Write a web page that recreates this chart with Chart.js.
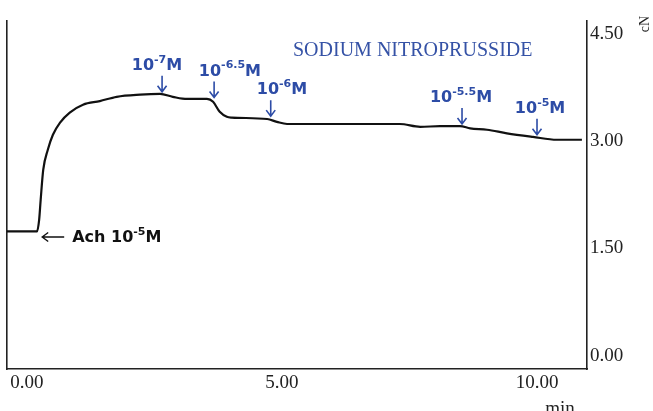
<!DOCTYPE html>
<html>
<head>
<meta charset="utf-8">
<script src="https://cdn.jsdelivr.net/npm/chart.js@4.4.1/dist/chart.umd.min.js"></script>
<style>
  html, body { margin: 0; padding: 0; background: #fff; }
  #wrap { width: 653px; height: 411px; position: relative; }
</style>
</head>
<body>
<div id="wrap"><canvas id="traceChart"></canvas></div>
<script>
// tension trace (min, cN)
var timeMin = [-0.39, 0.20, 0.24, 0.27, 0.32, 0.41, 0.51, 0.65, 0.84, 1.10, 1.43, 1.76, 2.22, 2.61, 2.86, 3.14, 3.53, 3.65, 3.78, 3.92, 4.02, 4.71, 4.90, 5.10, 5.35, 6.20, 7.31, 7.71, 8.10, 8.49, 8.69, 9.02, 9.41, 9.92, 10.39, 10.88];
var tension = [1.74, 1.74, 1.90, 2.18, 2.60, 2.88, 3.09, 3.26, 3.40, 3.51, 3.56, 3.62, 3.65, 3.66, 3.62, 3.59, 3.59, 3.55, 3.41, 3.34, 3.33, 3.31, 3.27, 3.24, 3.24, 3.24, 3.24, 3.20, 3.21, 3.21, 3.18, 3.16, 3.11, 3.06, 3.02, 3.02];

var xTicks = [0, 5, 10];
var yTicks = [0, 1.5, 3, 4.5];

// sodium nitroprusside additions: arrow position and dose label
var doseSup = ["-7", "-6.5", "-6", "-5.5", "-5"];
var doseTime = [2.65, 3.67, 4.78, 8.53, 10.00];
var doseTip = [3.69, 3.61, 3.35, 3.24, 3.09];
var doseLabelTime = [2.55, 3.98, 5.00, 8.51, 10.06];

var achTime = 0.30;
var achLevel = 1.66;

var blue = "#2d4ca6";

function drawPower(ctx, sup, x, cy, color, prefix) {
  var big = "bold 16px 'DejaVu Sans'";
  var small = "bold 11px 'DejaVu Sans'";
  ctx.save();
  ctx.fillStyle = color;
  ctx.textBaseline = "middle";
  ctx.textAlign = "left";
  ctx.font = big;
  var head = prefix + "10";
  var w1 = ctx.measureText(head).width;
  var w3 = ctx.measureText("M").width;
  ctx.font = small;
  var w2 = ctx.measureText(sup).width;
  ctx.font = big;
  ctx.fillText(head, x, cy);
  ctx.font = small;
  ctx.fillText(sup, x + w1, cy - 6);
  ctx.font = big;
  ctx.fillText("M", x + w1 + w2, cy);
  ctx.restore();
  return w1 + w2 + w3;
}

function powerWidth(ctx, sup, prefix) {
  ctx.save();
  ctx.font = "bold 16px 'DejaVu Sans'";
  var w = ctx.measureText(prefix + "10M").width;
  ctx.font = "bold 11px 'DejaVu Sans'";
  w += ctx.measureText(sup).width;
  ctx.restore();
  return w;
}

var notes = {
  id: "notes",
  afterDatasetsDraw: function (chart) {
    var ctx = chart.ctx;
    var xs = chart.scales.x, ys = chart.scales.y;

    // title
    ctx.save();
    ctx.fillStyle = "#3552a6";
    ctx.font = "20px 'Liberation Serif'";
    ctx.textBaseline = "middle";
    ctx.textAlign = "left";
    ctx.fillText("SODIUM NITROPRUSSIDE", 293, 51);
    ctx.restore();

    // dose arrows
    for (var i = 0; i < doseSup.length; i++) {
      var ax = xs.getPixelForValue(doseTime[i]);
      var tip = ys.getPixelForValue(doseTip[i]);
      ctx.save();
      ctx.strokeStyle = blue;
      ctx.lineWidth = 1.6;
      ctx.beginPath();
      ctx.moveTo(ax, tip - 16);
      ctx.lineTo(ax, tip);
      ctx.moveTo(ax - 4.5, tip - 6);
      ctx.lineTo(ax, tip);
      ctx.lineTo(ax + 4.5, tip - 6);
      ctx.stroke();
      ctx.restore();
      var lw = powerWidth(ctx, doseSup[i], "");
      var lx = xs.getPixelForValue(doseLabelTime[i]) - lw / 2;
      drawPower(ctx, doseSup[i], lx, tip - 26, blue, "");
    }

    // acetylcholine marker
    var ay = ys.getPixelForValue(achLevel);
    var ax0 = xs.getPixelForValue(achTime);
    ctx.save();
    ctx.strokeStyle = "#111";
    ctx.lineWidth = 1.4;
    ctx.beginPath();
    ctx.moveTo(ax0 + 22, ay);
    ctx.lineTo(ax0, ay);
    ctx.moveTo(ax0 + 6, ay - 4.5);
    ctx.lineTo(ax0, ay);
    ctx.lineTo(ax0 + 6, ay + 4.5);
    ctx.stroke();
    ctx.restore();
    drawPower(ctx, "-5", ax0 + 30, ay + 1, "#111", "Ach ");

    // unit labels
    ctx.save();
    ctx.fillStyle = "#222";
    ctx.font = "14px 'Liberation Serif'";
    ctx.translate(645, 24);
    ctx.rotate(-Math.PI / 2);
    ctx.textAlign = "center";
    ctx.textBaseline = "middle";
    ctx.fillText("cN", 0, 0);
    ctx.restore();

    ctx.save();
    ctx.fillStyle = "#222";
    ctx.font = "19px 'Liberation Serif'";
    ctx.textAlign = "center";
    ctx.textBaseline = "alphabetic";
    ctx.fillText("min", 560, 414);
    ctx.restore();
  }
};

var ctx = document.getElementById("traceChart").getContext("2d");

var points = timeMin.map(function (t, i) { return { x: t, y: tension[i] }; });

var tickFont = { family: "'Liberation Serif'", size: 19 };

var myChart = new Chart(ctx, {
  type: "line",
  data: {
    datasets: [
      {
        label: "Tension",
        data: points,
        borderColor: "#111",
        borderWidth: 2.2,
        pointRadius: 0,
        cubicInterpolationMode: "monotone",
        fill: false,
        yAxisID: "y"
      }
    ]
  },
  options: {
    responsive: true,
    maintainAspectRatio: false,
    animation: false,
    layout: { padding: { top: 21, left: 0, right: 0, bottom: 0 } },
    plugins: { legend: { display: false }, tooltip: { enabled: false } },
    scales: {
      x: {
        type: "linear",
        position: "bottom",
        min: -0.39,
        max: 10.98,
        grid: { display: false },
        border: { display: true, color: "#222", width: 1.6 },
        ticks: {
          font: tickFont,
          color: "#222",
          padding: -5,
          callback: function (v) { return v.toFixed(2); }
        },
        afterBuildTicks: function (s) { s.ticks = xTicks.map(function (v) { return { value: v }; }); },
        afterFit: function (s) { s.height = 42; }
      },
      y: {
        type: "linear",
        position: "right",
        min: -0.185,
        max: 4.68,
        grid: { display: false },
        border: { display: true, color: "#222", width: 1.6 },
        ticks: {
          font: tickFont,
          color: "#222",
          padding: -5,
          callback: function (v) { return v.toFixed(2); }
        },
        afterBuildTicks: function (s) { s.ticks = yTicks.map(function (v) { return { value: v }; }); },
        afterFit: function (s) { s.width = 66; }
      },
      yL: {
        type: "linear",
        position: "left",
        min: -0.185,
        max: 4.68,
        grid: { display: false },
        border: { display: true, color: "#222", width: 1.6 },
        ticks: { display: false },
        afterFit: function (s) { s.width = 7; }
      }
    }
  },
  plugins: [notes]
});
</script>
</body>
</html>
